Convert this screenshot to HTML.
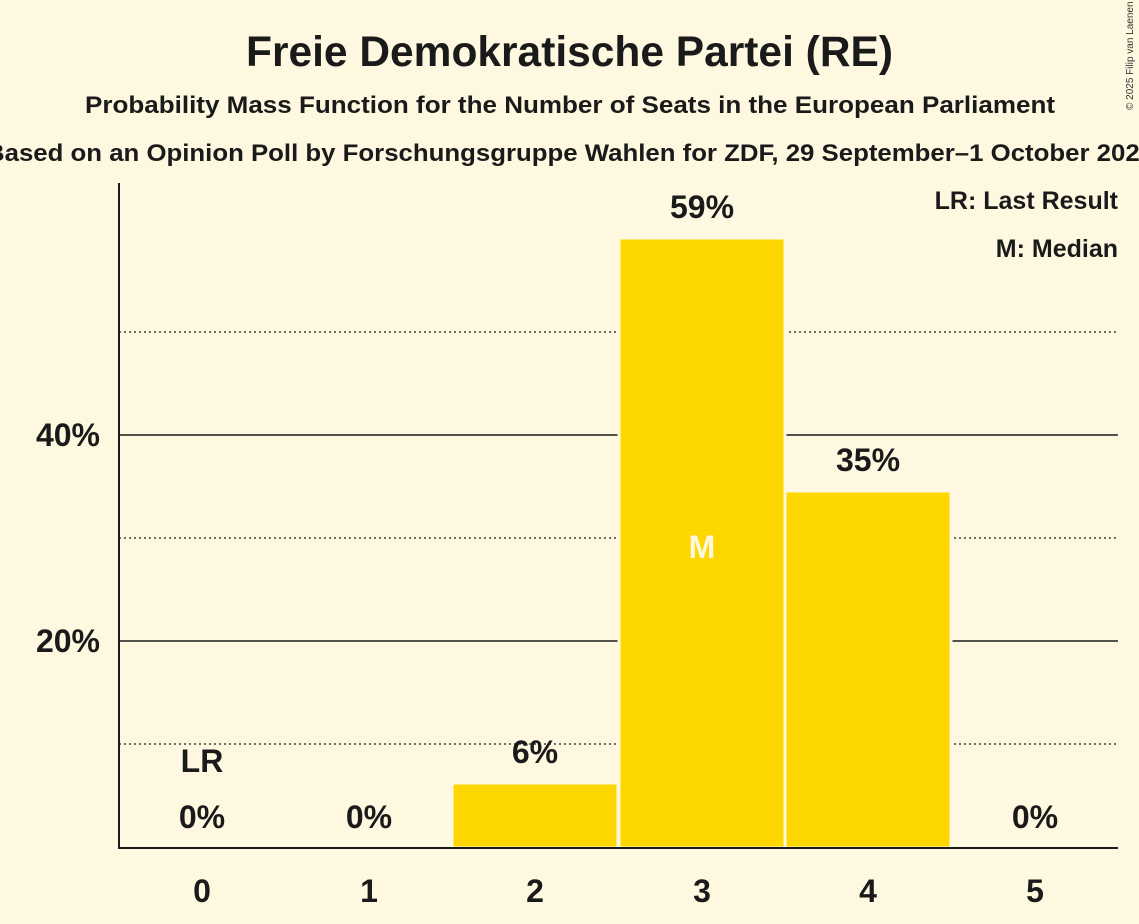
<!DOCTYPE html>
<html><head><meta charset="utf-8"><style>
html,body{margin:0;padding:0;background:#fff8e1;}
svg{display:block;font-family:"Liberation Sans",sans-serif;font-weight:bold;}
</style></head><body>
<svg width="1139" height="924" viewBox="0 0 1139 924" xmlns="http://www.w3.org/2000/svg">
<rect width="1139" height="924" fill="#fff8e1"/>
<text x="246" y="66" font-size="43" textLength="647" lengthAdjust="spacingAndGlyphs" fill="#1a1a1a">Freie Demokratische Partei (RE)</text>
<text x="85" y="113" font-size="24" textLength="970" lengthAdjust="spacingAndGlyphs" fill="#1a1a1a">Probability Mass Function for the Number of Seats in the European Parliament</text>
<text x="-14" y="161" font-size="24" textLength="1168" lengthAdjust="spacingAndGlyphs" fill="#1a1a1a">Based on an Opinion Poll by Forschungsgruppe Wahlen for ZDF, 29 September–1 October 2024</text>
<text x="1133" y="110" font-size="10" font-weight="normal" fill="#333" transform="rotate(-90 1133 110)">© 2025 Filip van Laenen</text>
<g stroke="#1a1a1a" stroke-width="1.3" stroke-dasharray="2,3">
<line x1="119" y1="744" x2="1118" y2="744"/>
<line x1="119" y1="538" x2="1118" y2="538"/>
<line x1="119" y1="332" x2="1118" y2="332"/>
</g>
<g stroke="#1a1a1a" stroke-width="1.5">
<line x1="119" y1="641" x2="1118" y2="641"/>
<line x1="119" y1="435" x2="1118" y2="435"/>
</g>
<g fill="#ffd700" stroke="#fff8e1" stroke-width="3">
<rect x="452" y="783" width="166" height="65"/>
<rect x="619" y="238" width="166" height="610"/>
<rect x="785" y="491" width="166" height="357"/>
</g>
<line x1="119" y1="183" x2="119" y2="848" stroke="#1a1a1a" stroke-width="2"/>
<line x1="118" y1="848" x2="1118" y2="848" stroke="#1a1a1a" stroke-width="2"/>
<g font-size="32" fill="#1a1a1a" text-anchor="end">
<text x="100" y="652">20%</text>
<text x="100" y="446">40%</text>
</g>
<g font-size="32" fill="#1a1a1a" text-anchor="middle">
<text x="202" y="902">0</text><text x="369" y="902">1</text><text x="535" y="902">2</text>
<text x="702" y="902">3</text><text x="868" y="902">4</text><text x="1035" y="902">5</text>
<text x="202" y="828">0%</text><text x="369" y="828">0%</text>
<text x="535" y="763">6%</text><text x="702" y="218">59%</text>
<text x="868" y="471">35%</text><text x="1035" y="828">0%</text>
<text x="202" y="772">LR</text>
<text x="702" y="558" fill="#fff8e1">M</text>
</g>
<g font-size="25" fill="#1a1a1a" text-anchor="end">
<text x="1118" y="209">LR: Last Result</text>
<text x="1118" y="257">M: Median</text>
</g>
</svg>
</body></html>
